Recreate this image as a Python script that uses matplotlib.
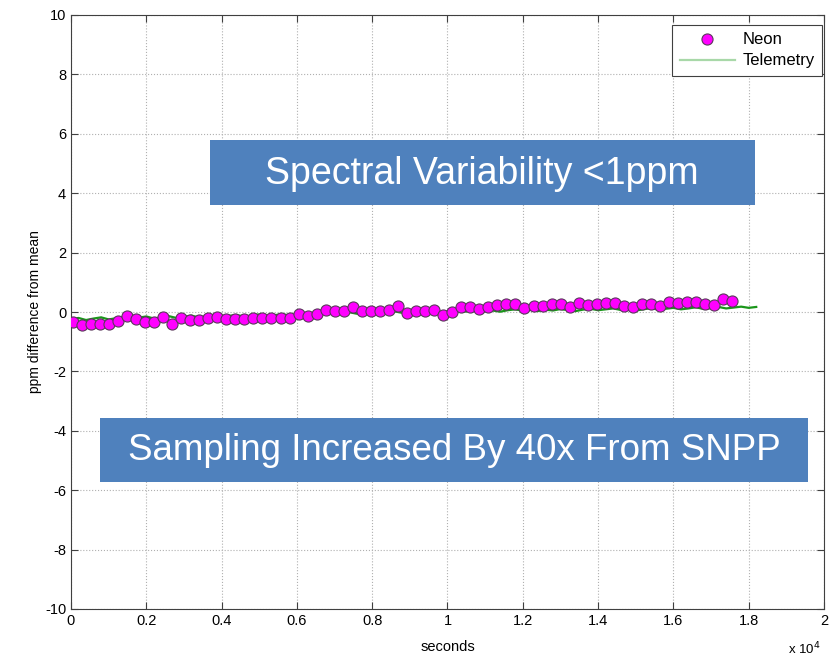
import matplotlib
matplotlib.use('Agg')
import matplotlib.pyplot as plt
from matplotlib.patches import Rectangle

# neon samples (seconds, ppm difference from mean)
neon_t = [45, 285, 525, 765, 1005, 1245, 1485, 1725, 1965, 2205,
          2445, 2685, 2925, 3165, 3405, 3645, 3885, 4125, 4365, 4605,
          4845, 5085, 5325, 5565, 5805, 6045, 6285, 6525, 6765, 7005,
          7245, 7485, 7725, 7965, 8205, 8445, 8685, 8925, 9165, 9405,
          9645, 9885, 10125, 10365, 10605, 10845, 11085, 11325, 11565, 11805,
          12045, 12285, 12525, 12765, 13005, 13245, 13485, 13725, 13965, 14205,
          14445, 14685, 14925, 15165, 15405, 15645, 15885, 16125, 16365, 16605,
          16845, 17085, 17325, 17565]
neon_ppm = [-0.34, -0.45, -0.39, -0.39, -0.42, -0.30, -0.13, -0.25, -0.34, -0.34,
            -0.17, -0.39, -0.19, -0.26, -0.26, -0.20, -0.17, -0.25, -0.22, -0.22,
            -0.20, -0.20, -0.20, -0.20, -0.20, -0.06, -0.13, -0.06, 0.06, 0.05,
            0.03, 0.17, 0.03, 0.03, 0.03, 0.06, 0.19, -0.02, 0.03, 0.03,
            0.08, -0.09, 0.00, 0.17, 0.17, 0.11, 0.17, 0.22, 0.26, 0.26,
            0.15, 0.19, 0.19, 0.28, 0.28, 0.17, 0.31, 0.25, 0.28, 0.31,
            0.31, 0.19, 0.17, 0.28, 0.26, 0.19, 0.34, 0.30, 0.34, 0.34,
            0.26, 0.22, 0.43, 0.37]

# telemetry trace
telem_t = [0, 200, 400, 600, 800, 1000, 1200, 1400, 1600, 1800,
           2000, 2200, 2400, 2600, 2800, 3000, 3200, 3400, 3600, 3800,
           4000, 4200, 4400, 4600, 4800, 5000, 5200, 5400, 5600, 5800,
           6000, 6200, 6400, 6600, 6800, 7000, 7200, 7400, 7600, 7800,
           8000, 8200, 8400, 8600, 8800, 9000, 9200, 9400, 9600, 9800,
           10000, 10200, 10400, 10600, 10800, 11000, 11200, 11400, 11600, 11800,
           12000, 12200, 12400, 12600, 12800, 13000, 13200, 13400, 13600, 13800,
           14000, 14200, 14400, 14600, 14800, 15000, 15200, 15400, 15600, 15800,
           16000, 16200, 16400, 16600, 16800, 17000, 17200, 17400, 17600, 17800,
           18000, 18200]
telem_ppm = [-0.24, -0.20, -0.27, -0.22, -0.18, -0.25, -0.21, -0.17, -0.23, -0.19,
             -0.15, -0.22, -0.18, -0.14, -0.20, -0.16, -0.12, -0.19, -0.15, -0.11,
             -0.17, -0.13, -0.10, -0.16, -0.12, -0.08, -0.14, -0.11, -0.07, -0.12,
             -0.09, -0.05, -0.11, -0.06, -0.03, -0.08, -0.04, -0.01, -0.06, -0.02,
             0.00, -0.05, -0.01, 0.02, -0.03, 0.01, -0.04, 0.00, 0.03, -0.02,
             0.02, 0.05, 0.00, 0.04, 0.07, 0.02, 0.05, 0.01, 0.06, 0.09,
             0.04, 0.07, 0.03, 0.08, 0.05, 0.10, 0.06, 0.03, 0.08, 0.11,
             0.06, 0.09, 0.12, 0.07, 0.10, 0.05, 0.09, 0.13, 0.08, 0.11,
             0.14, 0.09, 0.12, 0.16, 0.10, 0.13, 0.17, 0.12, 0.15, 0.18,
             0.14, 0.17]

x_ticks = [0, 2000, 4000, 6000, 8000, 10000, 12000, 14000, 16000, 18000, 20000]
x_labels = ['0', '0.2', '0.4', '0.6', '0.8', '1', '1.2', '1.4', '1.6', '1.8', '2']
y_ticks = [-10, -8, -6, -4, -2, 0, 2, 4, 6, 8, 10]

plt.rcParams['font.family'] = ['Liberation Sans', 'DejaVu Sans']
plt.rcParams['axes.unicode_minus'] = False

fig = plt.figure(figsize=(8.37, 6.59), dpi=100)
ax = fig.add_axes([71 / 837, 1 - 609 / 659, 753 / 837, 594 / 659])

ax.plot(telem_t, telem_ppm, '-', color='#1a961a', lw=1.6, label='Telemetry', zorder=2)
ax.plot(neon_t, neon_ppm, 'o', color='#ff00ff', markeredgecolor='#5a3a5a',
        markeredgewidth=0.8, markersize=8, label='Neon', zorder=3)

ax.set_xlim(0, 20000)
ax.set_ylim(-10, 10)
ax.set_xticks(x_ticks)
ax.set_xticklabels(x_labels)
ax.set_yticks(y_ticks)
ax.tick_params(direction='in', top=True, right=True, length=5, labelsize=10.5,
               color='#404040')
ax.grid(True, linestyle=':', color='#b0b0b0', lw=0.8)
for s in ax.spines.values():
    s.set_color('#404040')
    s.set_linewidth(0.8)

ax.set_xlabel('seconds', fontsize=10.5, labelpad=9)
ax.set_ylabel('ppm difference from mean', fontsize=10, labelpad=2)
fig.text(821 / 837, 1 - 649 / 659, 'x 10$^{4}$', fontsize=9.5, ha='right', va='center')

# legend with the pale line sample like the original
handles, labels = ax.get_legend_handles_labels()
leg = ax.legend(handles[::-1], labels[::-1], loc='upper right', fontsize=12,
                bbox_to_anchor=(822 / 837, 1 - 25 / 659), bbox_transform=fig.transFigure,
                fancybox=False, framealpha=1, edgecolor='#404040',
                borderaxespad=0, handlelength=3.3, borderpad=0.45,
                labelspacing=0.35, handletextpad=0.45)
leg.get_frame().set_linewidth(0.8)
leg.legend_handles[1].set_color('#a8d8a8')

# annotation boxes
fig.patches.append(Rectangle((210 / 837, 1 - 205 / 659), 545 / 837, 65 / 659,
                             transform=fig.transFigure, facecolor='#4f81bd',
                             edgecolor='none', zorder=5))
fig.text(482 / 837, 1 - 174 / 659, 'Spectral Variability <1ppm', color='white',
         fontsize=27, ha='center', va='center', zorder=6)
fig.patches.append(Rectangle((100 / 837, 1 - 482 / 659), 708 / 837, 64 / 659,
                             transform=fig.transFigure, facecolor='#4f81bd',
                             edgecolor='none', zorder=5))
fig.text(454 / 837, 1 - 451 / 659, 'Sampling Increased By 40x From SNPP', color='white',
         fontsize=26.5, ha='center', va='center', zorder=6)

fig.savefig('out.png', dpi=100)
